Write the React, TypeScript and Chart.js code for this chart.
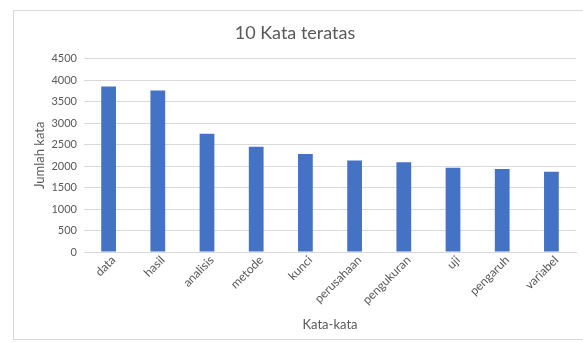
import React, { useEffect, useRef } from "react";
import { Chart, registerables } from "chart.js";

Chart.register(...registerables);

// Ten most frequent words and their counts
const words = [
  "data",
  "hasil",
  "analisis",
  "metode",
  "kunci",
  "perusahaan",
  "pengukuran",
  "uji",
  "pengaruh",
  "variabel",
];
const counts = [3850, 3760, 2750, 2450, 2280, 2130, 2090, 1960, 1930, 1870];

const yTicks = [0, 500, 1000, 1500, 2000, 2500, 3000, 3500, 4000, 4500];

const TEXT = "#595959";
const GRID = "#d9d9d9";
const BAR = "#4472c4";
const FONT = "Lato, 'Open Sans', sans-serif";

export default function App() {
  const ref = useRef<HTMLCanvasElement | null>(null);

  useEffect(() => {
    if (!ref.current) return;
    const chart = new Chart(ref.current, {
      type: "bar",
      data: {
        labels: words,
        datasets: [
          {
            label: "Jumlah kata",
            data: counts,
            backgroundColor: BAR,
            barPercentage: 1,
            categoryPercentage: 0.3,
          },
        ],
      },
      options: {
        responsive: false,
        animation: false,
        layout: { padding: { left: 0, right: 16, top: 0, bottom: 0 } },
        plugins: {
          legend: { display: false },
          tooltip: { enabled: false },
          title: {
            display: true,
            text: "10 Kata teratas",
            color: TEXT,
            font: { family: FONT, size: 18, weight: "normal" },
            padding: { top: 11, bottom: 15 },
          },
        },
        scales: {
          x: {
            grid: { display: false, drawTicks: false },
            border: { display: true, color: GRID },
            ticks: {
              color: TEXT,
              font: { family: FONT, size: 12 },
              maxRotation: 45,
              minRotation: 45,
              padding: 1,
              labelOffset: 5,
              autoSkip: false,
            },
            title: {
              display: true,
              text: "Kata-kata",
              color: TEXT,
              font: { family: FONT, size: 13 },
              padding: { top: 0, bottom: 6 },
            },
            afterFit: (s: any) => {
              s.height = 87;
            },
          },
          y: {
            min: 0,
            max: 4500,
            afterBuildTicks: (s: any) => {
              s.ticks = yTicks.map((v) => ({ value: v }));
            },
            grid: { color: GRID, drawTicks: false },
            border: { display: false },
            ticks: {
              color: TEXT,
              font: { family: FONT, size: 11 },
              padding: 7,
              callback: (v: any) => String(v),
            },
            title: {
              display: true,
              text: "Jumlah kata",
              color: TEXT,
              font: { family: FONT, size: 13 },
              padding: { top: 18, bottom: 0 },
            },
            afterFit: (s: any) => {
              s.width = 70;
            },
          },
        },
      },
    });
    return () => chart.destroy();
  }, []);

  return (
    <div
      style={{
        position: "absolute",
        left: 13,
        top: 10,
        width: 580,
        height: 330,
        border: `1px solid ${GRID}`,
        boxSizing: "border-box",
        background: "#fff",
      }}
    >
      <canvas ref={ref} width={578} height={328} style={{ display: "block" }} />
    </div>
  );
}
